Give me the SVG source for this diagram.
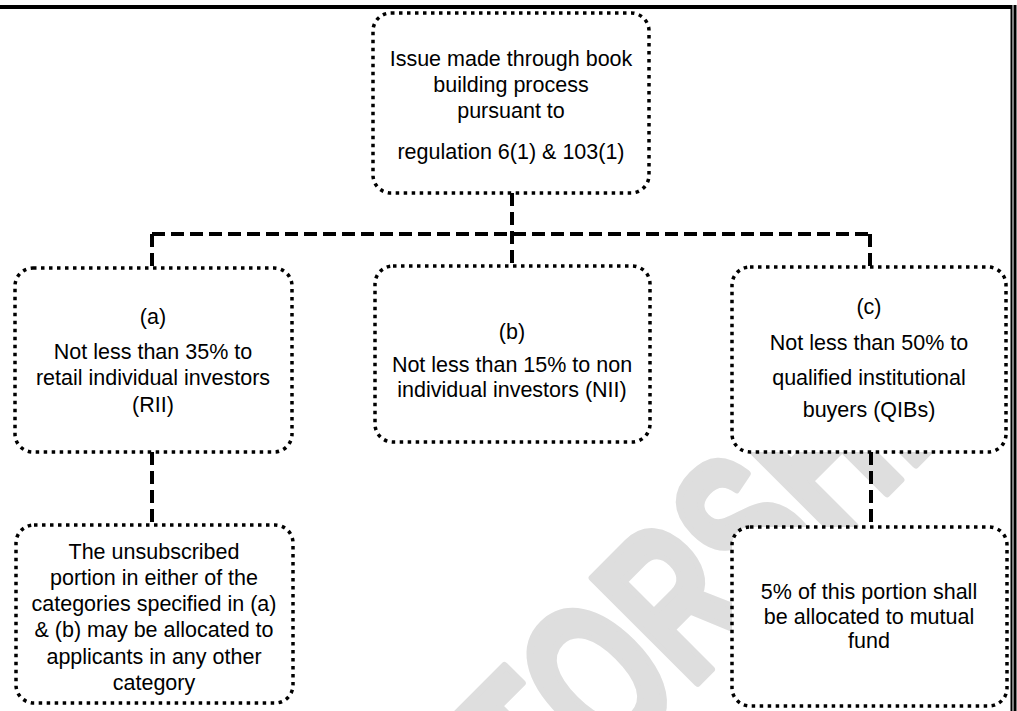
<svg xmlns="http://www.w3.org/2000/svg" width="1017" height="711" viewBox="0 0 1017 711">
  <style>
    .box { fill: #ffffff; stroke: #000000; stroke-width: 3.5; stroke-dasharray: 3.5 4.5; }
    .conn { fill: none; stroke: #000000; stroke-width: 4; stroke-dasharray: 13 6; }
    .t { font-family: "Liberation Sans", Arial, sans-serif; font-size: 21.5px; fill: #000000; text-anchor: middle; }
    .wm { font-family: "Liberation Sans", Arial, sans-serif; font-weight: bold; font-size: 215px; fill: #dedede; stroke: #dedede; stroke-width: 8; stroke-linejoin: round; }
  </style>
  <rect x="0" y="0" width="1017" height="711" fill="#ffffff"/>
  <g id="watermark">
    <text class="wm" transform="translate(548,832) rotate(-45) scale(0.68,1)" x="0" y="0">TORSHIP</text>
  </g>
  <g id="frame">
    <rect x="0" y="5" width="1011" height="4" fill="#000000"/>
    <rect x="1010.5" y="5" width="2" height="706" fill="#000000"/>
    <rect x="1013.5" y="5" width="3" height="706" fill="#000000"/>
  </g>
  <g id="connectors">
    <path class="conn" d="M512,193 V266"/>
    <path class="conn" d="M152,234 H871"/>
    <path class="conn" d="M152,234 V268"/>
    <path class="conn" d="M870,234 V267"/>
    <path class="conn" d="M152,452 V525"/>
    <path class="conn" d="M871,452 V527"/>
  </g>
  <g id="node-top">
    <rect class="box" x="373" y="13" width="276" height="180" rx="18"/>
    <text class="t" x="511" y="66">Issue made through book</text>
    <text class="t" x="511" y="92">building process</text>
    <text class="t" x="511" y="118">pursuant to</text>
    <text class="t" x="511" y="159">regulation 6(1) &amp; 103(1)</text>
  </g>
  <g id="node-a">
    <rect class="box" x="15" y="268" width="277" height="184" rx="18"/>
    <text class="t" x="153" y="324">(a)</text>
    <text class="t" x="153" y="359">Not less than 35% to</text>
    <text class="t" x="153" y="385">retail individual investors</text>
    <text class="t" x="153" y="412">(RII)</text>
  </g>
  <g id="node-b">
    <rect class="box" x="375" y="266" width="275" height="176" rx="18"/>
    <text class="t" x="512" y="339">(b)</text>
    <text class="t" x="512" y="372">Not less than 15% to non</text>
    <text class="t" x="512" y="397">individual investors (NII)</text>
  </g>
  <g id="node-c">
    <rect class="box" x="732" y="267" width="274" height="185" rx="18"/>
    <text class="t" x="869" y="314">(c)</text>
    <text class="t" x="869" y="350">Not less than 50% to</text>
    <text class="t" x="869" y="385">qualified institutional</text>
    <text class="t" x="869" y="417">buyers (QIBs)</text>
  </g>
  <g id="node-unsubscribed">
    <rect class="box" x="16" y="525" width="277" height="178" rx="18"/>
    <text class="t" x="154" y="559">The unsubscribed</text>
    <text class="t" x="154" y="585">portion in either of the</text>
    <text class="t" x="154" y="611">categories specified  in (a)</text>
    <text class="t" x="154" y="637">&amp; (b) may be allocated to</text>
    <text class="t" x="154" y="664">applicants in any other</text>
    <text class="t" x="154" y="690">category</text>
  </g>
  <g id="node-mutual-fund">
    <rect class="box" x="732" y="527" width="275" height="179" rx="18"/>
    <text class="t" x="869" y="599">5% of this portion shall</text>
    <text class="t" x="869" y="624">be allocated to mutual</text>
    <text class="t" x="869" y="648">fund</text>
  </g>
</svg>
